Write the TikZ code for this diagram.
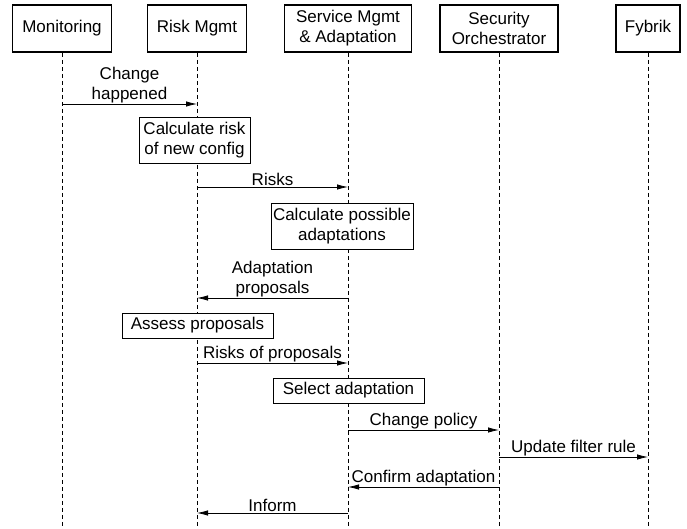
\documentclass[tikz,border=0pt]{standalone}
\usepackage{fontspec}
\setmainfont{Liberation Sans}
\usetikzlibrary{arrows.meta}

\begin{document}
\begin{tikzpicture}[x=1pt,y=-1pt,font=\fontsize{17}{20}\selectfont,
  actor node/.style={draw,line width=1.8pt,fill=white,minimum height=47pt,align=center,inner sep=2pt},
  task node/.style={draw,line width=0.8pt,fill=white,align=center,inner sep=2pt},
  lifeline/.style={line width=0.7pt,dash pattern=on 4pt off 3pt},
  msg label/.style={above,align=center,inner sep=1pt},
  msg/.style={-{Latex[length=11pt,width=5.5pt]},line width=0.8pt}]

  \useasboundingbox (0,0) rectangle (687,529);

  % participants
  \node[actor node,minimum width=99pt]  (mon)  at (62,28.5)  {Monitoring};
  \node[actor node,minimum width=99pt]  (risk) at (197,28.5) {Risk Mgmt};
  \node[actor node,minimum width=127pt] (svc)  at (348,28.5) {Service Mgmt\\\& Adaptation};
  \node[actor node,minimum width=118pt] (sec)  at (499,28.5) {Security\\Orchestrator};
  \node[actor node,minimum width=64pt]  (fyb)  at (648,28.5) {Fybrik};

  % lifelines
  \foreach \p in {mon,risk,svc,sec,fyb}
    \draw[lifeline] (\p.south) -- (\p.south |- 0,529);

  % local steps
  \node[task node,minimum width=111pt,minimum height=46pt] (calcrisk)  at (194.5,140.5) {Calculate risk\\of new config};
  \node[task node,minimum width=140pt,minimum height=46pt] (calcadapt) at (342,226)     {Calculate possible\\adaptations};
  \node[task node,minimum width=151pt,minimum height=25pt] (assess)    at (197.5,325.5) {Assess proposals};
  \node[task node,minimum width=151pt,minimum height=25pt] (select)    at (348.5,390.5) {Select adaptation};

  % messages
  \path[msg]
    (mon |- 0,104)  edge node[msg label] {Change\\happened} (risk |- 0,104)
    (risk |- 0,187) edge node[msg label] {Risks} (svc |- 0,187)
    (svc |- 0,298)  edge node[msg label] {Adaptation\\proposals} (risk |- 0,298)
    (risk |- 0,363) edge node[msg label] {Risks of proposals} (svc |- 0,363)
    (svc |- 0,430)  edge node[msg label] {Change policy} (sec |- 0,430)
    (sec |- 0,457)  edge node[msg label] {Update filter rule} (fyb |- 0,457)
    (sec |- 0,487)  edge node[msg label] {Confirm adaptation} (svc |- 0,487)
    (svc |- 0,513)  edge node[msg label] {Inform} (risk |- 0,513);

\end{tikzpicture}
\end{document}
